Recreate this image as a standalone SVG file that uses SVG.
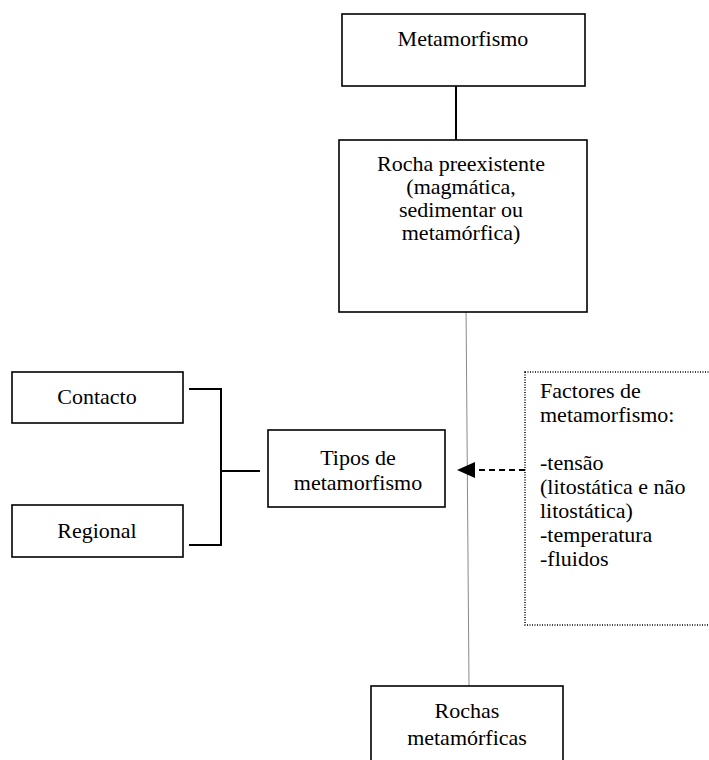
<svg xmlns="http://www.w3.org/2000/svg" width="709" height="760" viewBox="0 0 709 760">
  <style>
    .box { fill: #ffffff; stroke: #000000; stroke-width: 1.6; }
    .dotted { fill: none; stroke: #000000; stroke-width: 1.5; stroke-dasharray: 1 1.5; }
    .t { font-family: "Liberation Serif", "Times New Roman", serif; font-size: 22px; fill: #000000; }
    .c { text-anchor: middle; }
    .ln { stroke: #000000; stroke-width: 2; fill: none; }
    .thin { stroke: #8a8a8a; stroke-width: 1; fill: none; }
    .dash { stroke: #000000; stroke-width: 2; stroke-dasharray: 6 4; fill: none; }
  </style>
  <rect width="709" height="760" fill="#ffffff"/>

  <!-- connectors -->
  <g id="connectors">
    <line class="ln" x1="456" y1="81" x2="456" y2="145"/>
    <line class="thin" x1="466" y1="304" x2="469" y2="686"/>
    <!-- bracket joining the two types -->
    <line class="ln" x1="189" y1="389" x2="221" y2="389"/>
    <line class="ln" x1="221" y1="388" x2="221" y2="546"/>
    <line class="ln" x1="189" y1="545" x2="221" y2="545"/>
    <line class="ln" x1="221" y1="471" x2="260" y2="471"/>
    <!-- dashed arrow from the factors -->
    <line class="dash" x1="525" y1="470" x2="476" y2="470"/>
    <path d="M475,462 L457,470 L475,478 z" fill="#000000"/>
  </g>

  <g id="metamorfismo">
    <rect class="box" x="342" y="14" width="243" height="72"/>
    <text class="t c" x="463" y="46">Metamorfismo</text>
  </g>

  <g id="rocha-preexistente">
    <rect class="box" x="339" y="140" width="248" height="172"/>
    <text class="t c" x="461" y="171">Rocha preexistente</text>
    <text class="t c" x="461" y="194">(magmática,</text>
    <text class="t c" x="461" y="217">sedimentar ou</text>
    <text class="t c" x="461" y="240">metamórfica)</text>
  </g>

  <g id="contacto">
    <rect class="box" x="12" y="372" width="171" height="51"/>
    <text class="t c" x="97" y="404">Contacto</text>
  </g>

  <g id="regional">
    <rect class="box" x="12" y="505" width="171" height="52"/>
    <text class="t c" x="97" y="538">Regional</text>
  </g>

  <g id="tipos">
    <rect class="box" x="268" y="430" width="177" height="77"/>
    <text class="t c" x="358" y="465">Tipos de</text>
    <text class="t c" x="358" y="490">metamorfismo</text>
  </g>

  <g id="factores">
    <rect class="dotted" x="525" y="372" width="200" height="253"/>
    <text class="t" x="540" y="398">Factores de</text>
    <text class="t" x="540" y="422">metamorfismo:</text>
    <text class="t" x="540" y="470">-tensão</text>
    <text class="t" x="540" y="494">(litostática e não</text>
    <text class="t" x="540" y="518">litostática)</text>
    <text class="t" x="540" y="542">-temperatura</text>
    <text class="t" x="540" y="566">-fluidos</text>
  </g>

  <g id="rochas-metamorficas">
    <rect class="box" x="371" y="686" width="192" height="90"/>
    <text class="t c" x="467" y="718">Rochas</text>
    <text class="t c" x="467" y="745">metamórficas</text>
  </g>
</svg>
